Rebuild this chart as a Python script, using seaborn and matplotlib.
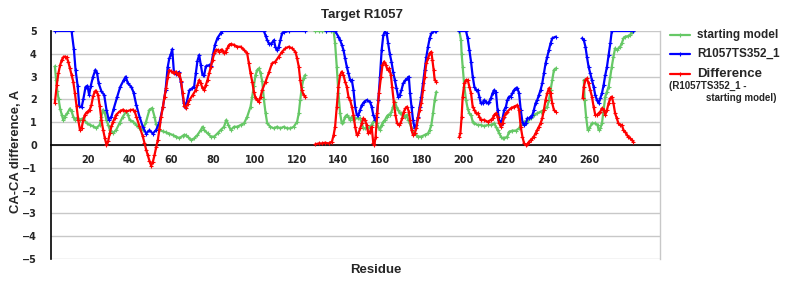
import numpy as np
import pandas as pd
import matplotlib
matplotlib.use("Agg")
import matplotlib.pyplot as plt
import matplotlib.transforms as mtrans
from matplotlib.lines import Line2D
import seaborn as sns

# ---------------- data (NaN separates segments) ----------------
nan = np.nan
start_res = [2, 2.6, 3.2, 3.8, 4.5, 5.3, 6.0, 6.8, 8.0, 9.2, 10.0, 10.8, 11.6, 12.4, 13.2, 14.0, 15.6, 17.2,
             18.7, 20.3, 21.9, 23.5, 24.3, 25.1, 25.9, 26.7, 27.5, 28.3, 29.9, 31.4, 33.0, 34.6, 36.2, 37.0,
             37.8, 39.4, 40.9, 42.5, 44.1, 45.7, 47.3, 48.6, 49.7, 50.5, 52.1, 53.7, 55.3, 56.8, 58.4, 60.0,
             61.6, 63.2, 64.0, 64.8, 65.6, 67.2, 68.7, 70.3, 71.9, 72.7, 73.5, 75.1, 76.7, 78.3, 79.9, 81.4,
             83.0, 84.1, 85.1, 86.2, 87.8, 89.4, 91.0, 92.6, 94.1, 95.7, 96.5, 97.3, 98.1, 98.9, 99.7, 100.5,
             101.3, 102.1, 102.9, 103.7, 105.2, 106.9, 108.4, 110.0, 111.6, 113.2, 114.8, 116.4, 118.0, 118.8,
             119.5, 120.3, 121.1, 121.9, 124,
             126.7, 128.3, 130.0, 132.0, 134.0, 135.5, 136.2, 137.0, 137.8, 138.6, 139.4, 140.2, 141.0, 141.8,
             142.6, 143.4, 144.2, 145.0, 145.8, 147.4, 148.2, 149.0, 149.7, 150.5, 152.1, 153.7, 154.5, 155.3,
             156.1, 156.9, 157.7, 158.5, 159.3, 160.1, 160.9, 161.6, 162.4, 163.2, 164.0, 164.8, 165.6, 166.4,
             167.2, 168.0, 168.8, 169.6, 170.4, 171.2, 172.0, 172.8, 173.5, 174.3, 175.1, 175.9, 177.5, 179.1,
             180.7, 181.5, 182.3, 183.1, 183.9, 184.7, 190,
             195.7, 196.5, 196.8, 197.3, 198.1, 198.9, 199.7, 200.5, 201.3, 202.1, 202.9, 204.5, 206.0, 207.6,
             209.2, 210.8, 212.4, 213.2, 214.0, 214.8, 215.6, 216.4, 217.2, 218.7, 219.5, 221.1, 222.7, 224.3,
             225.1, 226.7, 228.3, 229.9, 231.4, 233.0, 234.6, 236.2, 237.8, 238.6, 239.4, 240.2, 241.0, 241.8, 248,
             255.3, 255.7, 256.4, 257.2, 258.0, 259.2, 260.8, 261.9, 262.4, 263.2, 264.0, 264.8, 265.6, 266.4,
             267.2, 268.0, 268.7, 269.5, 270.3, 271.1, 271.9, 272.7, 273.5, 274.3, 275.1, 276.7, 277.5, 278.3, 279.0]
start_val = [3.45, 2.85, 2.35, 2.0, 1.6, 1.33, 1.1, 1.25, 1.4, 1.6, 1.47, 1.25, 1.1, 1.18, 1.18, 1.1, 1.18, 0.96,
             0.89, 0.82, 0.74, 0.89, 1.25, 1.55, 1.4, 1.1, 0.89, 0.67, 0.52, 0.67, 0.96, 1.25, 1.47, 1.33,
             1.1, 1.03, 0.89, 0.74, 0.67, 1.03, 1.55, 1.62, 1.25, 0.9, 0.66, 0.6, 0.55, 0.5, 0.44, 0.37,
             0.3, 0.4, 0.45, 0.42, 0.37, 0.22, 0.29, 0.44, 0.66, 0.8, 0.66, 0.51, 0.37, 0.37, 0.51, 0.66,
             0.8, 1.1, 0.88, 0.66, 0.8, 0.8, 0.88, 0.95, 1.24, 1.68, 2.12, 2.6, 3.07, 3.29, 3.36, 3.14,
             2.8, 2.0, 1.4, 0.95, 0.8, 0.73, 0.8, 0.73, 0.8, 0.73, 0.73, 0.8, 1.02, 1.39,
             1.97, 2.56, 2.92, 3.07, nan,
             5.0, 5.0, 5.0, 5.0, 5.0, 5.0, 4.46, 3.43, 2.27, 1.39, 0.95, 1.02, 1.24, 1.32,
             1.24, 1.1, 1.24, 1.1, 1.17, 1.17, 1.17, 0.95, 0.73, 0.73, 0.73, 0.88, 1.02, 1.1,
             0.95, 0.8, 0.66, 0.88, 1.02, 1.1, 1.24, 1.32, 1.32, 1.46, 1.68, 1.9, 1.68, 1.54,
             1.39, 1.39, 1.32, 1.24, 1.32, 1.1, 0.95, 0.73, 0.58, 0.51, 0.44, 0.37, 0.37, 0.44,
             0.51, 0.66, 0.88, 1.39, 1.97, 2.34, nan,
             5.0, 4.6, 4.0, 3.43, 2.56, 1.97, 1.6, 1.39, 1.32, 1.02, 0.95, 0.88, 0.88, 0.83,
             0.88, 0.88, 0.95, 0.8, 0.66, 0.51, 0.37, 0.29, 0.29, 0.37, 0.58, 0.63, 0.63, 0.73,
             0.88, 1.02, 1.02, 1.17, 1.32, 1.39, 1.46, 1.54, 1.68, 1.97, 2.41, 2.85, 3.29, 3.36, nan,
             2.85, 1.97, 1.24, 0.66, 0.73, 0.95, 0.95, 0.88, 0.66, 0.73, 0.95, 1.54, 2.12, 2.34,
             2.56, 3.0, 3.43, 3.87, 4.24, 4.17, 4.24, 4.31, 4.46, 4.68, 4.75, 4.78, 4.82, 4.97, 5.0]

model_res = [2, 10.0, 11.1, 11.9, 12.9, 13.7, 14.8, 15.6, 16.7, 17.6, 18.4, 19.2, 20.3, 21.4, 22.2, 23.0, 24.3,
             25.6, 26.7, 27.8, 29.1, 30.2, 31.8, 33.3, 35.0, 35.9, 37.0, 38.6, 39.7, 41.0, 42.5, 44.1, 45.7,
             47.3, 48.9, 50.5, 52.1, 53.7, 55.0, 56.0, 56.8, 57.6, 58.2, 59.0, 60.0, 61.3, 62.4, 63.7, 64.5,
             65.2, 66.4, 67.9, 68.7, 69.5, 70.3, 71.1, 71.9, 72.7, 73.5, 74.3, 75.6, 76.7, 77.8, 78.7, 79.9,
             81.4, 82.2, 102.1, 102.9, 103.7, 104.5, 105.7, 106.9, 107.6, 108.4, 109.2, 110.0, 110.8, 111.6,
             114.0, 121.9, 125,
             132.0, 136.2, 137.8, 138.6, 139.4, 140.2, 141.0, 141.8, 142.6, 143.4, 144.2, 145.0, 145.8, 146.6,
             147.4, 148.2, 149.0, 150.2, 151.3, 152.9, 153.7, 154.5, 155.3, 156.1, 156.9, 157.7, 158.5, 159.3,
             160.1, 160.9, 161.6, 162.4, 163.2, 164.0, 164.8, 165.6, 166.4, 167.2, 168.0, 168.8, 169.9, 170.8,
             171.5, 172.1, 172.8, 173.5, 174.3, 175.1, 175.9, 176.7, 177.5, 178.3, 179.1, 179.9, 180.7, 181.5,
             182.3, 183.9, 184.7, 190,
             195.7, 198.9, 199.7, 200.5, 201.3, 202.1, 202.9, 203.7, 204.5, 205.3, 206.0, 206.8, 207.6, 208.4,
             209.2, 210.0, 210.8, 211.6, 212.4, 213.2, 214.0, 214.8, 215.6, 216.4, 217.2, 218.0, 218.7, 219.5,
             220.3, 221.1, 221.9, 222.7, 223.5, 224.3, 225.1, 225.9, 226.7, 227.5, 228.3, 229.1, 229.9, 230.7,
             231.4, 232.2, 233.0, 233.8, 234.6, 235.4, 236.2, 237.0, 237.8, 238.6, 239.4, 240.2, 241.8, 248,
             254.5, 255.3, 256.1, 256.8, 257.6, 258.4, 259.2, 260.0, 260.8, 261.6, 262.4, 263.2, 264.0, 264.8,
             265.6, 266.4, 267.2, 268.0, 268.7, 279.0]
model_val = [5.0, 5.0, 4.2, 3.3, 2.6, 1.7, 1.65, 2.0, 2.55, 2.6, 2.2, 2.6, 3.0, 3.3, 3.15, 2.7, 2.35,
             2.2, 1.55, 1.1, 1.25, 1.6, 2.1, 2.55, 2.85, 3.0, 2.7, 2.55, 2.3, 1.75, 1.25, 0.8, 0.5,
             0.65, 0.5, 0.66, 1.0, 1.65, 2.4, 3.4, 3.8, 4.0, 4.2, 3.2, 3.1, 3.2, 2.75, 1.85, 1.65,
             1.9, 2.4, 2.5, 2.56, 3.15, 3.7, 3.95, 3.5, 3.07, 3.07, 3.45, 3.5, 3.45, 4.0, 4.4, 4.7,
             4.9, 5.0, 5.0, 4.8, 4.6, 4.45, 4.45, 4.6, 4.3, 4.15, 4.3, 4.6, 4.9, 4.95,
             5.0, 5.0, nan,
             5.0, 5.0, 4.75, 4.6, 4.4, 4.17, 3.8, 3.43, 3.14, 2.85, 2.85, 2.41, 1.68, 1.32,
             1.32, 1.54, 1.75, 1.9, 1.97, 1.9, 1.68, 1.32, 1.1, 1.24, 1.97, 3.0, 4.17, 4.82,
             4.97, 4.9, 4.46, 4.0, 3.65, 3.2, 2.85, 2.49, 2.12, 2.19, 2.41, 2.7, 2.85, 2.92,
             3.0, 2.27, 1.68, 1.1, 0.73, 0.88, 1.24, 1.68, 2.12, 2.7, 3.29, 3.87, 4.31, 4.68,
             4.9, 5.0, 5.0, nan,
             5.0, 5.0, 4.68, 4.17, 3.65, 3.0, 2.56, 2.41, 2.41, 2.12, 1.83, 1.83, 1.97, 1.9,
             1.83, 1.9, 2.05, 2.27, 2.41, 2.34, 1.54, 1.1, 0.88, 1.17, 1.54, 1.68, 1.97, 2.12,
             2.12, 2.27, 2.41, 2.49, 2.49, 2.27, 1.54, 1.02, 0.88, 0.95, 1.17, 1.17, 1.24, 1.32,
             1.54, 1.83, 1.97, 2.19, 2.41, 2.7, 3.14, 3.58, 3.87, 4.17, 4.46, 4.68, 4.75, nan,
             4.68, 4.6, 4.31, 3.87, 3.43, 3.14, 2.85, 2.56, 2.19, 1.97, 1.83, 2.05, 2.27, 2.63,
             3.07, 3.43, 3.95, 4.46, 5.0, 5.0]

diff_res = [2.0, 2.9, 3.7, 4.5, 5.3, 6.0, 6.8, 7.6, 8.4, 9.2, 10.0, 10.8, 11.6, 12.4, 13.2, 14.0, 14.8, 15.6,
            16.4, 17.2, 17.9, 18.7, 19.5, 20.3, 21.1, 21.9, 22.7, 23.5, 24.3, 25.1, 25.9, 26.7, 27.5, 28.3,
            29.1, 29.9, 30.7, 31.4, 33.0, 34.6, 36.2, 37.8, 39.4, 40.2, 41.0, 42.5, 44.1, 44.9, 45.7, 46.5,
            47.3, 48.1, 48.9, 49.7, 50.5, 51.3, 52.1, 52.9, 53.7, 54.5, 55.3, 56.1, 56.8, 57.6, 58.4, 59.2,
            60.0, 60.8, 61.6, 62.4, 63.2, 64.0, 64.8, 65.6, 66.4, 68.0, 69.5, 70.3, 71.1, 71.9, 72.7, 73.5,
            74.3, 75.1, 75.9, 76.7, 77.5, 78.3, 79.1, 79.9, 80.6, 81.4, 82.2, 83.0, 83.8, 84.6, 85.4, 86.2,
            87.8, 89.4, 91.0, 92.6, 94.1, 94.9, 95.7, 96.5, 97.3, 98.1, 98.9, 99.7, 100.5, 101.3, 102.9,
            104.5, 106.0, 107.6, 109.2, 110.8, 112.4, 114.0, 115.6, 117.2, 118.0, 118.8, 119.5, 120.3, 121.1,
            121.9, 124,
            126.7, 128.3, 129.9, 131.4, 133.1, 134.7, 135.5, 136.2, 137.0, 137.8, 138.6, 139.4, 140.2, 141.0,
            141.8, 142.6, 143.4, 144.2, 145.0, 145.8, 146.6, 147.4, 148.2, 149.0, 149.7, 150.5, 151.3, 152.1,
            152.9, 153.7, 154.5, 155.0, 155.6, 156.4, 157.2, 158.2, 158.9, 159.7, 160.5, 161.3, 162.1, 162.9,
            163.5, 164.3, 165.1, 165.9, 166.7, 167.5, 168.3, 169.1, 169.9, 170.7, 171.5, 172.1, 172.8, 173.5,
            174.3, 175.1, 175.9, 176.7, 177.5, 178.3, 179.1, 179.9, 180.7, 181.5, 182.3, 182.8, 183.4, 183.9,
            184.7, 190,
            195.7, 196.2, 196.8, 197.3, 198.1, 198.9, 199.7, 200.5, 201.3, 202.1, 202.9, 203.7, 204.5, 205.3,
            206.0, 207.6, 209.2, 210.8, 211.6, 212.4, 213.2, 214.0, 214.8, 215.6, 216.4, 217.2, 218.0, 218.7,
            220.3, 221.9, 223.5, 224.3, 225.1, 225.9, 226.7, 227.5, 228.3, 229.1, 229.9, 230.7, 231.4, 232.2,
            233.0, 233.8, 234.6, 235.4, 236.2, 237.0, 237.8, 238.6, 239.4, 240.2, 241.0, 241.8, 248,
            254.8, 255.3, 256.1, 256.8, 257.6, 258.4, 259.2, 260.0, 260.8, 261.6, 262.4, 263.2, 264.0, 264.8,
            265.6, 266.4, 267.2, 268.0, 268.7, 269.5, 270.3, 271.1, 271.9, 272.7, 273.5, 274.3, 275.1, 275.9,
            276.7, 277.5, 278.3, 279.0]
diff_val = [1.85, 2.64, 3.15, 3.5, 3.73, 3.85, 3.88, 3.85, 3.66, 3.37, 3.08, 2.78, 2.27, 1.69, 1.1, 0.67, 0.74, 1.1,
            1.33, 1.43, 1.47, 1.55, 1.76, 2.13, 2.35, 2.35, 2.2, 1.69, 1.1, 0.67, 0.31, 0.01, 0.16, 0.52,
            0.82, 1.03, 1.18, 1.33, 1.47, 1.55, 1.47, 1.52, 1.55, 1.47, 1.25, 0.82, 0.38, 0.09, -0.2, -0.45,
            -0.7, -0.9, -0.75, -0.45, -0.1, 0.22, 0.7, 1.24, 1.65, 2.12, 2.5, 3.0, 3.27, 3.24, 3.18, 3.14,
            3.22, 3.07, 3.14, 2.82, 2.3, 1.7, 1.64, 1.82, 1.97, 2.19, 2.41, 2.63, 2.85, 2.7, 2.49, 2.41,
            2.63, 2.85, 3.14, 3.44, 3.73, 4.02, 4.17, 4.17, 4.09, 4.17, 4.17, 4.02, 4.09, 4.24, 4.39, 4.43,
            4.39, 4.31, 4.31, 4.17, 4.02, 3.58, 3.14, 2.78, 2.34, 2.05, 1.97, 1.9, 2.12, 2.41, 2.78,
            3.18, 3.58, 3.66, 3.87, 4.09, 4.24, 4.31, 4.24, 4.09, 3.8, 3.44, 2.85, 2.41, 2.19,
            2.12, nan,
            0.03, 0.07, 0.07, 0.1, 0.07, 0.15, 0.44, 0.8, 1.68, 2.56, 3.07, 3.22, 3.07, 2.78,
            2.56, 2.12, 1.97, 1.68, 1.32, 0.8, 0.44, 0.51, 0.73, 0.95, 1.17, 1.1, 0.88, 0.51,
            0.58, 0.8, 0.07, 0.0, 0.37, 1.39, 2.27, 3.0, 3.51, 3.66, 3.51, 3.29, 3.36, 3.07,
            2.56, 1.9, 1.32, 0.95, 0.88, 0.95, 1.17, 1.46, 1.61, 1.68, 1.46, 1.1, 0.66, 0.44,
            0.51, 0.73, 1.17, 1.54, 1.83, 2.41, 3.0, 3.58, 3.8, 4.02, 4.09, 3.73, 3.29, 2.85,
            2.78, nan,
            0.37, 0.51, 1.24, 2.12, 2.7, 2.85, 2.85, 2.56, 2.27, 1.68, 1.54, 1.39, 1.39, 1.24,
            1.1, 1.1, 1.02, 1.1, 1.17, 1.32, 1.39, 1.24, 0.95, 0.8, 0.95, 1.24, 1.39, 1.46,
            1.61, 1.68, 1.75, 1.54, 0.8, 0.37, 0.07, 0.0, 0.03, 0.15, 0.22, 0.29, 0.37, 0.51,
            0.66, 0.8, 0.95, 1.17, 1.54, 1.97, 2.27, 2.49, 2.27, 1.83, 1.54, 1.46, nan,
            2.05, 2.56, 2.85, 2.92, 2.7, 2.41, 2.12, 1.68, 1.32, 1.32, 1.39, 1.46, 1.61, 1.54,
            1.32, 1.54, 1.83, 2.05, 2.12, 1.83, 1.39, 1.17, 0.95, 0.88, 0.88, 0.66, 0.58, 0.44,
            0.37, 0.29, 0.22, 0.15]

x_ticks = list(range(0, 280, 10))
x_labels = [str(t) if (t % 20 == 0 and t > 0) else "" for t in x_ticks]
y_ticks = list(range(-5, 6))

C_START = "#66c866"
C_MODEL = "#0000ff"
C_DIFF = "#ff0000"


def to_frame(res, val):
    res = np.asarray(res, dtype=float)
    val = np.asarray(val, dtype=float)
    seg = np.cumsum(np.isnan(val))
    df = pd.DataFrame({"res": res, "val": val, "seg": seg})
    return df.dropna()


sns.set_style("white")
plt.rcParams["font.family"] = ["Liberation Sans", "DejaVu Sans"]

fig = plt.figure(figsize=(8, 3), dpi=100)
ax = fig.add_axes([50.7 / 800, 1 - 259 / 300, (660 - 50.7) / 800, (259 - 31) / 300])

for res, val, col in [(start_res, start_val, C_START),
                      (model_res, model_val, C_MODEL),
                      (diff_res, diff_val, C_DIFF)]:
    sns.lineplot(data=to_frame(res, val), x="res", y="val", units="seg", estimator=None,
                 sort=False, color=col, lw=1.6, marker="+", markersize=3, mew=0.8,
                 markeredgecolor=col, ax=ax, legend=False, zorder=3)

ax.set_xlim(1.62, 291.8)
ax.set_ylim(-5, 5)
ax.grid(axis="y", color="#c8c8c8", lw=1)
ax.grid(axis="x", visible=False)
ax.spines["bottom"].set_position(("data", 0))
ax.spines["bottom"].set_color("black")
ax.spines["bottom"].set_linewidth(1.2)
ax.spines["left"].set_color("black")
ax.spines["left"].set_linewidth(1.2)
ax.spines["top"].set_visible(False)
ax.spines["right"].set_color("#c8c8c8")
ax.spines["right"].set_linewidth(1)

ax.set_yticks(y_ticks)
ax.set_yticklabels([("\u2212%d" % -t) if t < 0 else str(t) for t in y_ticks])
ax.set_xticks(x_ticks)
ax.set_xticklabels(x_labels)
ax.tick_params(axis="x", length=3, color="#b0b0b0", width=1, pad=4, direction="out")
ax.tick_params(axis="y", length=0, pad=10)
shift = mtrans.ScaledTranslation(-4.5 / 100, 0, fig.dpi_scale_trans)
for lab in ax.get_yticklabels() + ax.get_xticklabels():
    lab.set_fontfamily("DejaVu Sans")
    lab.set_fontweight("bold")
    lab.set_fontsize(7)
for lab in ax.get_xticklabels():
    lab.set_transform(lab.get_transform() + shift)
ax.set_xlabel("")
ax.set_ylabel("")

fig.text(362 / 800, 1 - 15 / 300, "Target R1057", ha="center", va="center",
         fontsize=9.5, fontweight="bold")
fig.text(16 / 800, 1 - 151 / 300, "CA-CA difference, A", ha="center", va="center",
         rotation=90, fontsize=9.4, fontweight="bold")
fig.text(376 / 800, 1 - 270 / 300, "Residue", ha="center", va="center",
         fontsize=9.5, fontweight="bold")

# legend
for ypix, col, lab in [(35, C_START, "starting model"), (54, C_MODEL, "R1057TS352_1"),
                       (74, C_DIFF, "Difference")]:
    yf = 1 - ypix / 300
    fig.add_artist(Line2D([670 / 800, 690 / 800], [yf, yf], color=col, lw=1.6,
                          transform=fig.transFigure))
    fig.add_artist(Line2D([680 / 800], [yf], color=col, marker="+", markersize=3, mew=0.8,
                          transform=fig.transFigure))
    fig.text(697 / 800, yf, lab, ha="left", va="center", fontweight="bold",
             fontsize=9.5 if lab == "Difference" else 8.5)
fig.text(669 / 800, 1 - 86 / 300, "(R1057TS352_1 -", ha="left", va="center",
         fontweight="bold", fontsize=7)
fig.text(777 / 800, 1 - 98 / 300, "starting model)", ha="right", va="center",
         fontweight="bold", fontsize=7)

fig.savefig("out.png", dpi=100)
